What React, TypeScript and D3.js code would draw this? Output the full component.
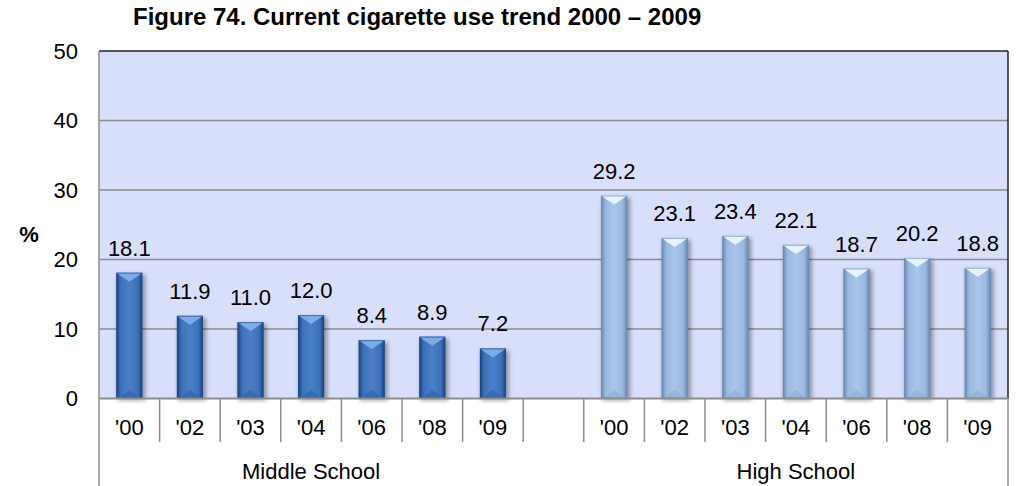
import React from "react";
import * as d3 from "d3";

const years = ["'00", "'02", "'03", "'04", "'06", "'08", "'09"];
const middleSchool = [18.1, 11.9, 11.0, 12.0, 8.4, 8.9, 7.2];
const highSchool = [29.2, 23.1, 23.4, 22.1, 18.7, 20.2, 18.8];
const groups = ["Middle School", "High School"];
const yTicks = [0, 10, 20, 30, 40, 50];
const title = "Figure 74. Current cigarette use trend 2000 \u2013 2009";

type Slot = { key: string; year: string; group: number; value: number | null };

const slots: Slot[] = [
  ...years.map((y, i) => ({ key: "m" + i, year: y, group: 0, value: middleSchool[i] })),
  { key: "gap", year: "", group: -1, value: null },
  ...years.map((y, i) => ({ key: "h" + i, year: y, group: 1, value: highSchool[i] })),
];

const W = 1017;
const H = 486;
const left = 99;
const right = 1008;
const top = 51;
const bottom = 398.5;

export default function App() {
  const x = d3
    .scaleBand<string>()
    .domain(slots.map((s) => s.key))
    .range([left, right])
    .paddingInner(0)
    .paddingOuter(0);
  const y = d3.scaleLinear().domain([0, 50]).range([bottom, top]);
  const bw = x.bandwidth();
  const barW = 26;
  const font = "Arial, 'Liberation Sans', sans-serif";

  const palettes = [
    { id: "dark", edge: "#1b4380", mid: "#4a80c8", center: "#3d72b9", top: "#80b2ec", bot: "#2c5c9e" },
    { id: "light", edge: "#6a89b3", mid: "#a9c6ea", center: "#9ab9df", top: "#eef7ff", bot: "#8aa9d0" },
  ];

  const groupSpans = [
    { label: groups[0], x0: x("m0")!, x1: x("m6")! + bw },
    { label: groups[1], x0: x("h0")!, x1: x("h6")! + bw },
  ];

  return (
    <svg width={W} height={H} style={{ position: "absolute", left: 0, top: 0 }}>
      <defs>
        {palettes.map((p) => (
          <linearGradient key={p.id} id={"g-" + p.id} x1="0" x2="1" y1="0" y2="0">
            <stop offset="0" stopColor={p.edge} />
            <stop offset="0.18" stopColor={p.center} />
            <stop offset="0.5" stopColor={p.mid} />
            <stop offset="0.82" stopColor={p.center} />
            <stop offset="1" stopColor={p.edge} />
          </linearGradient>
        ))}
        <filter id="shadow" x="-50%" y="-10%" width="200%" height="130%">
          <feGaussianBlur stdDeviation="2" />
        </filter>
      </defs>
      <rect x={0} y={0} width={W} height={H} fill="#ffffff" />
      <text
        x={133}
        y={25}
        fontFamily={font}
        fontWeight="bold"
        fontSize={24}
        fill="#000"
      >
        {title}
      </text>
      {/* plot area */}
      <rect x={left} y={top} width={right - left} height={bottom - top} fill="#d8dffb" />
      {yTicks.slice(1, -1).map((t) => (
        <line key={t} x1={left} x2={right} y1={y(t)} y2={y(t)} stroke="#8c8c8c" strokeWidth={1.5} />
      ))}
      <line x1={left} x2={right} y1={top} y2={top} stroke="#222" strokeWidth={1.5} />
      <line x1={right} x2={right} y1={top} y2={bottom} stroke="#222" strokeWidth={1.5} />
      {/* bars */}
      {slots.map((s) => {
        if (s.value == null) return null;
        const p = palettes[s.group];
        const cx = x(s.key)! + bw / 2;
        const x0 = cx - barW / 2;
        const y0 = y(s.value);
        const h = bottom - y0;
        const bev = 7;
        return (
          <g key={s.key}>
            <rect x={x0 + 1} y={y0 + 2} width={barW + 2} height={h} fill="#000" opacity={0.35} filter="url(#shadow)" />
            <rect x={x0} y={y0} width={barW} height={h} fill={`url(#g-${p.id})`} />
            <path
              d={`M${x0},${y0}L${x0 + barW},${y0}L${x0 + barW - 4},${y0 + 3}L${cx},${y0 + bev + 2}L${x0 + 4},${y0 + 3}Z`}
              fill={p.top}
              opacity={0.9}
            />
            <path
              d={`M${x0 + 3},${bottom}L${cx},${bottom - bev - 2}L${x0 + barW - 3},${bottom}Z`}
              fill={p.bot}
              opacity={0.55}
            />
            <rect x={x0 + 0.5} y={y0 + 0.5} width={barW - 1} height={h - 1} fill="none" stroke={p.edge} strokeWidth={1} opacity={0.6} />
            <text
              x={cx}
              y={y0 - 17}
              textAnchor="middle"
              fontFamily={font}
              fontSize={22}
              fill="#000"
            >
              {s.value.toFixed(1)}
            </text>
          </g>
        );
      })}
      {/* axes */}
      <line x1={left} x2={right} y1={bottom} y2={bottom} stroke="#8c8c8c" strokeWidth={2} />
      <line x1={left} x2={left} y1={top} y2={H} stroke="#8c8c8c" strokeWidth={1.5} />
      <line x1={right} x2={right} y1={bottom} y2={H} stroke="#8c8c8c" strokeWidth={1.5} />
      {slots.slice(1).map((s) => (
        <line key={"t" + s.key} x1={x(s.key)!} x2={x(s.key)!} y1={bottom} y2={442} stroke="#8c8c8c" strokeWidth={1.5} />
      ))}
      {yTicks.map((t) => (
        <text
          key={"y" + t}
          x={78}
          y={y(t)}
          dy="0.36em"
          textAnchor="end"
          fontFamily={font}
          fontSize={22}
          fill="#000"
        >
          {t}
        </text>
      ))}
      <text x={29} y={242} textAnchor="middle" fontFamily={font} fontWeight="bold" fontSize={22} fill="#000">
        %
      </text>
      {slots.map((s) =>
        s.year ? (
          <text
            key={"l" + s.key}
            x={x(s.key)! + bw / 2}
            y={435}
            textAnchor="middle"
            fontFamily={font}
            fontSize={22}
            fill="#000"
          >
            {s.year}
          </text>
        ) : null
      )}
      {groupSpans.map((g) => (
        <text
          key={g.label}
          x={(g.x0 + g.x1) / 2}
          y={479}
          textAnchor="middle"
          fontFamily={font}
          fontSize={22}
          fill="#000"
        >
          {g.label}
        </text>
      ))}
    </svg>
  );
}
